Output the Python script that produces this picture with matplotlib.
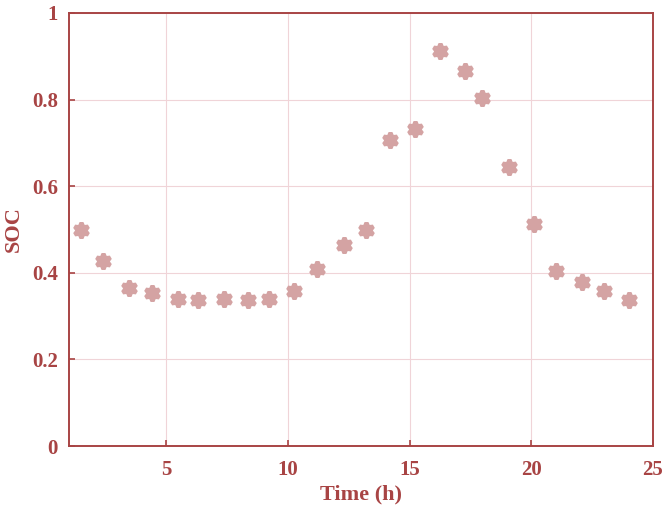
import matplotlib
matplotlib.use("Agg")
import matplotlib.pyplot as plt

time_h = [1.5, 2.4, 3.46, 4.4, 5.46, 6.3, 7.35, 8.34, 9.2, 10.26, 11.2, 12.3,
          13.2, 14.2, 15.2, 16.25, 17.27, 17.97, 19.1, 20.1, 21.0, 22.1, 22.97, 24.0]
soc = [0.500, 0.427, 0.365, 0.353, 0.339, 0.337, 0.339, 0.337, 0.339, 0.358, 0.409, 0.464,
       0.499, 0.707, 0.732, 0.912, 0.866, 0.804, 0.644, 0.513, 0.404, 0.379, 0.358, 0.337]
xticks = [5, 10, 15, 20, 25]
yticks = [0, 0.2, 0.4, 0.6, 0.8, 1]
ytick_labels = ["0", "0.2", "0.4", "0.6", "0.8", "1"]

axc = "#a84444"
plt.rcParams['font.family'] = ['Liberation Serif', 'DejaVu Serif']
plt.rcParams['font.weight'] = 'bold'

fig = plt.figure(figsize=(6.65, 5.12), dpi=100)
ax = fig.add_axes([69/665, (512-446)/512, (653-69)/665, (446-13)/512])
ax.plot(time_h, soc, linestyle='none', marker=(6, 1, 0), markersize=11,
        color="#d4a3a3", markeredgecolor="#d4a3a3", markeredgewidth=3.0, zorder=3)
ax.set_xlim(1, 25)
ax.set_ylim(0, 1)
ax.set_xticks(xticks)
ax.set_yticks(yticks)
ax.set_yticklabels(ytick_labels)
ax.grid(True, color="#f0d4d8", linewidth=0.8)
for s in ax.spines.values():
    s.set_color(axc)
    s.set_linewidth(1.4)
ax.tick_params(direction='in', length=4, width=1.2, color=axc, labelcolor=axc, labelsize=15)
ax.tick_params(axis='y', pad=8)
ax.tick_params(axis='x', pad=10)
for lbl in ax.get_xticklabels() + ax.get_yticklabels():
    lbl.set_fontweight('bold')
ax.set_xlabel("Time (h)", color=axc, fontsize=16, fontweight='bold')
ax.set_ylabel("SOC", color=axc, fontsize=16, fontweight='bold')
ax.yaxis.set_label_coords(-0.078, 0.5)
ax.xaxis.set_label_coords(0.5, -0.09)
fig.savefig("out.png", dpi=100)
